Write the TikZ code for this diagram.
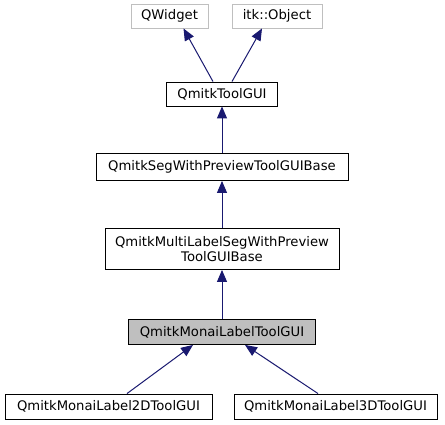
\documentclass[tikz,border=0pt]{standalone}
\usepackage{fontspec}
\setmainfont{DejaVu Sans}
\usetikzlibrary{arrows.meta}
\definecolor{edgeblue}{HTML}{191970}
\definecolor{lightborder}{HTML}{BFBFBF}
\definecolor{hlfill}{HTML}{BFBFBF}
\begin{document}
\begin{tikzpicture}[x=1pt,y=-1pt,
  cls/.style={draw=black,line width=0.9pt,inner sep=0pt,font=\fontsize{13.2}{15.5}\selectfont,align=center},
  ext/.style={cls,draw=lightborder},
  cur/.style={cls,fill=hlfill},
  inh/.style={draw=edgeblue,line width=1pt,{Triangle[length=12pt,width=10pt,fill=edgeblue]}-}]
\useasboundingbox (0,0) rectangle (445,425);
\fill[white] (0,0) rectangle (445,425);
\node[ext,minimum width=77,minimum height=24] (qwidget) at (169.5,16) {QWidget};
\node[ext,minimum width=90,minimum height=24] (itkobj) at (277,16) {itk::Object};
\node[cls,minimum width=111,minimum height=24] (tool) at (222,94) {QmitkToolGUI};
\node[cls,minimum width=252,minimum height=27] (segw) at (222,167) {QmitkSegWithPreviewToolGUIBase};
\node[cls,minimum width=234,minimum height=41] (multi) at (222,249) {QmitkMultiLabelSegWithPreview\\ToolGUIBase};
\node[cur,minimum width=187,minimum height=25] (monai) at (222,332) {QmitkMonaiLabelToolGUI};
\node[cls,minimum width=207,minimum height=25] (twod) at (108.5,406.5) {QmitkMonaiLabel2DToolGUI};
\node[cls,minimum width=203,minimum height=25] (threed) at (335.5,406.5) {QmitkMonaiLabel3DToolGUI};
\draw[inh] ([xshift=14]qwidget.south) -- ([xshift=-9]tool.north);
\draw[inh] ([xshift=-15]itkobj.south) -- ([xshift=10]tool.north);
\draw[inh] (tool.south) -- (segw.north);
\draw[inh] (segw.south) -- (multi.north);
\draw[inh] (multi.south) -- (monai.north);
\draw[inh] ([xshift=-29]monai.south) -- ([xshift=18.5]twod.north);
\draw[inh] ([xshift=23]monai.south) -- ([xshift=-17.5]threed.north);
\end{tikzpicture}
\end{document}
